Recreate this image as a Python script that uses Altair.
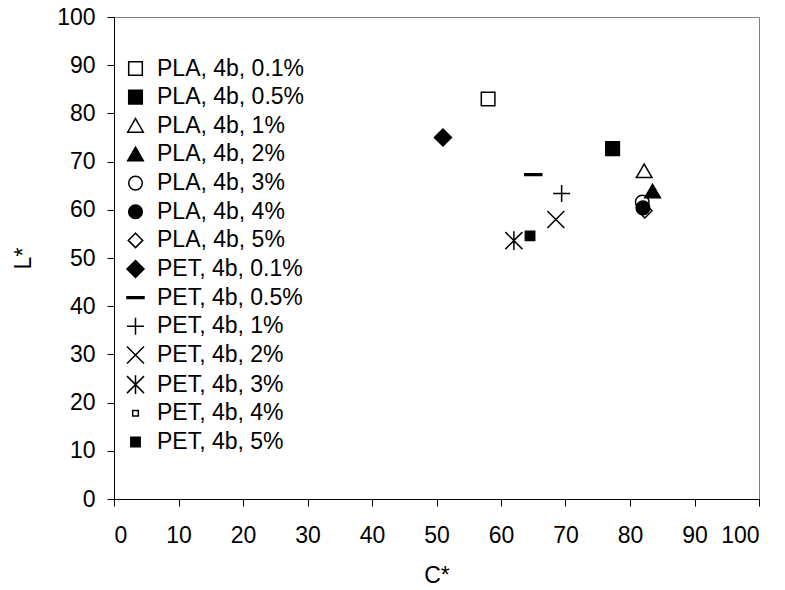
import altair as alt
import pandas as pd

series = [
    "PLA, 4b, 0.1%", "PLA, 4b, 0.5%", "PLA, 4b, 1%", "PLA, 4b, 2%",
    "PLA, 4b, 3%", "PLA, 4b, 4%", "PLA, 4b, 5%",
    "PET, 4b, 0.1%", "PET, 4b, 0.5%", "PET, 4b, 1%", "PET, 4b, 2%",
    "PET, 4b, 3%", "PET, 4b, 4%", "PET, 4b, 5%",
]
c_star = [58.0, 77.3, 82.2, 83.5, 81.9, 82.0, 82.3,
          51.0, 65.0, 69.4, 68.5, 62.0, 64.5, 64.5]
l_star = [83.0, 72.7, 68.0, 63.8, 61.6, 60.4, 59.8,
          75.0, 67.3, 63.4, 58.0, 53.6, 54.6, 54.6]
x_ticks = list(range(0, 101, 10))
y_ticks = list(range(0, 101, 10))

# marker styles (one per series); all drawn at one symbol size, shape paths set the scale
SQ = "M-0.8,-0.8L0.8,-0.8L0.8,0.8L-0.8,0.8Z"
TRI = "M0,-0.85L0.92,0.75L-0.92,0.75Z"
CIRC = "M0.8,0A0.8,0.8,0,1,1,-0.8,0A0.8,0.8,0,1,1,0.8,0Z"
DIA_S = "M0,-0.85L0.85,0L0,0.85L-0.85,0Z"
DIA_L = "M0,-1L1,0L0,1L-1,0Z"
DASH = "M-1,-0.1L1,-0.1L1,0.1L-1,0.1Z"
PLUS = "M-1,0L1,0M0,-1L0,1"
CROSS = "M-1,-1L1,1M-1,1L1,-1"
STAR = "M-1,-1L1,1M-1,1L1,-1M0,-1.1L0,1.1"
SQ_XS = "M-0.33,-0.33L0.33,-0.33L0.33,0.33L-0.33,0.33Z"
SQ_S = "M-0.55,-0.55L0.55,-0.55L0.55,0.55L-0.55,0.55Z"
shapes = [SQ, SQ, TRI, TRI, CIRC, CIRC, DIA_S,
          DIA_L, DASH, PLUS, CROSS, STAR, SQ_XS, SQ_S]
fills = ["white", "black", "white", "black", "transparent", "black", "transparent",
         "black", "black", "transparent", "transparent", "transparent", "white", "black"]
strokes = ["black"] * len(series)

df = pd.DataFrame({"series": series, "C": c_star, "L": l_star})

FONT = "Liberation Sans"
FS = 23

chart = alt.Chart(df).mark_point(
    strokeWidth=1.5, size=289, opacity=1, strokeOpacity=1, fillOpacity=1
).encode(
    x=alt.X("C:Q", title="C*",
            scale=alt.Scale(domain=[0, 100], nice=False, zero=False),
            axis=alt.Axis(values=x_ticks, labelPadding=18, titlePadding=17)),
    y=alt.Y("L:Q", title="L*",
            scale=alt.Scale(domain=[0, 100], nice=False, zero=False),
            axis=alt.Axis(values=y_ticks, labelPadding=12, titlePadding=21)),
    shape=alt.Shape("series:N", scale=alt.Scale(domain=series, range=shapes),
                    legend=alt.Legend(title=None)),
    fill=alt.Fill("series:N", scale=alt.Scale(domain=series, range=fills),
                  legend=alt.Legend(title=None)),
    stroke=alt.Stroke("series:N", scale=alt.Scale(domain=series, range=strokes),
                      legend=alt.Legend(title=None)),
    order=alt.Order("idx:Q"),
).transform_window(
    idx="row_number()"
).properties(
    width=645, height=482,
    autosize=alt.AutoSizeParams(type="none"),
    padding={"left": 114, "top": 17, "right": 26, "bottom": 91},
).configure_view(
    stroke="#808080", strokeWidth=1
).configure_axis(
    grid=False,
    domainColor="black", domainWidth=1,
    tickColor="black", tickSize=7, tickWidth=1,
    labelFont=FONT, labelFontSize=FS, labelColor="black",
    titleFont=FONT, titleFontSize=FS, titleFontWeight="normal", titleColor="black",
).configure_legend(
    orient="none", legendX=10, legendY=40,
    labelFont=FONT, labelFontSize=FS, labelColor="black",
    symbolSize=289, symbolStrokeWidth=1.5,
    rowPadding=4.65, labelOffset=10, padding=0,
)

chart.save("out.html", embed_options={"renderer": "svg", "actions": False})
